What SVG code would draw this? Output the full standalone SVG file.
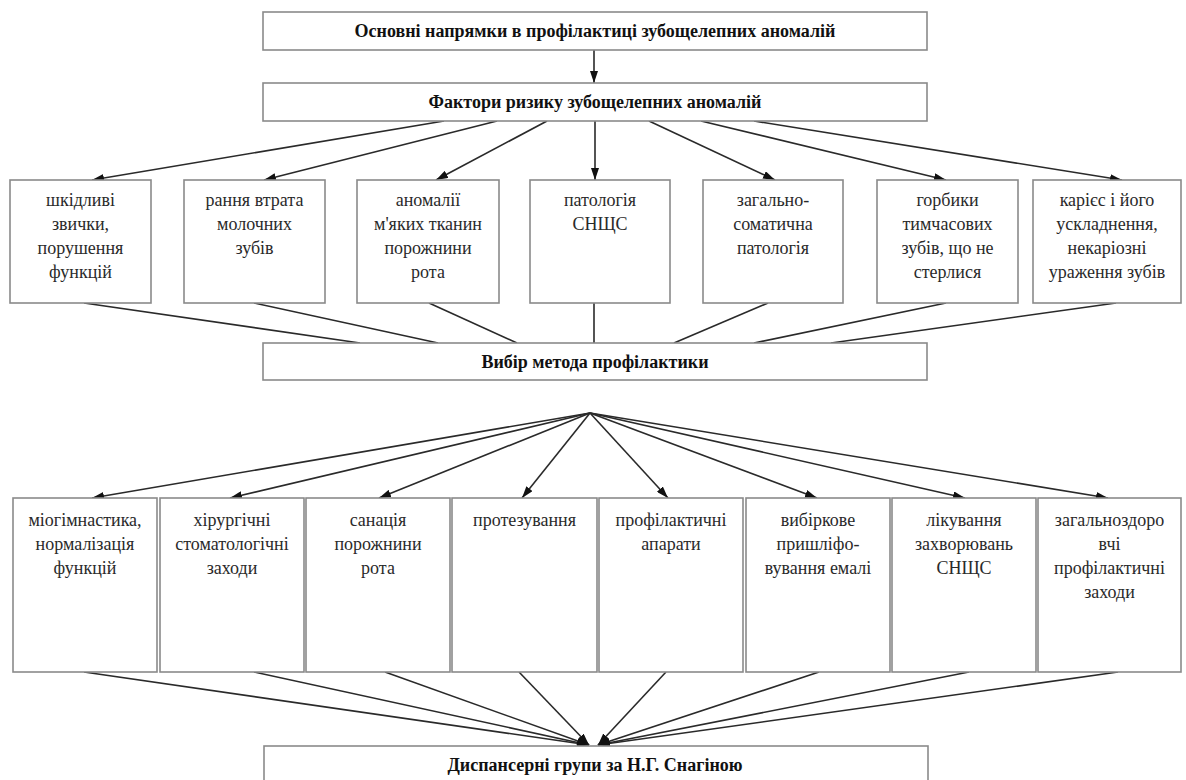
<svg xmlns="http://www.w3.org/2000/svg" width="1186" height="780" viewBox="0 0 1186 780">
<style>
.box{fill:#fff;stroke:#8a8a8a;stroke-width:1.6}
.t{font-family:"Liberation Serif","Times New Roman",serif;font-size:18px;fill:#2a2a2a;text-anchor:middle}
.h{font-family:"Liberation Serif","Times New Roman",serif;font-size:18px;font-weight:bold;fill:#111;text-anchor:middle}
.c line{stroke:#2a2a2a;stroke-width:1.6}
.c .a{marker-end:url(#ar)}
</style>
<defs>
<marker id="ar" markerUnits="userSpaceOnUse" markerWidth="12" markerHeight="8" refX="12" refY="4" orient="auto">
<path d="M0,0 L12,4 L0,8 z" fill="#111"/>
</marker>
</defs>
<rect width="1186" height="780" fill="#fff"/>

<g class="c" id="connectors">
<line class="a" x1="594" y1="50" x2="594" y2="83"/>
<line class="a" x1="444" y1="121" x2="92" y2="180"/>
<line class="a" x1="497" y1="121" x2="264" y2="180"/>
<line class="a" x1="547" y1="121" x2="436" y2="180"/>
<line class="a" x1="595" y1="121" x2="595" y2="180"/>
<line class="a" x1="649" y1="121" x2="775" y2="180"/>
<line class="a" x1="701" y1="121" x2="946" y2="180"/>
<line class="a" x1="754" y1="121" x2="1122" y2="180"/>

<line x1="84" y1="303" x2="360" y2="343"/>
<line x1="254" y1="303" x2="438" y2="343"/>
<line x1="429" y1="303" x2="517" y2="343"/>
<line x1="594" y1="303" x2="594" y2="343"/>
<line x1="768" y1="303" x2="674" y2="343"/>
<line x1="946" y1="303" x2="754" y2="343"/>
<line x1="1116" y1="303" x2="831" y2="343"/>

<line class="a" x1="590" y1="413" x2="92" y2="498"/>
<line class="a" x1="590" y1="413" x2="230" y2="498"/>
<line class="a" x1="590" y1="413" x2="379" y2="498"/>
<line class="a" x1="590" y1="413" x2="522" y2="498"/>
<line class="a" x1="590" y1="413" x2="668" y2="498"/>
<line class="a" x1="590" y1="413" x2="817" y2="498"/>
<line class="a" x1="590" y1="413" x2="965" y2="498"/>
<line class="a" x1="590" y1="413" x2="1108" y2="498"/>

<line class="a" x1="84" y1="672" x2="589" y2="745"/>
<line class="a" x1="254" y1="672" x2="589" y2="745"/>
<line class="a" x1="385" y1="672" x2="589" y2="745"/>
<line class="a" x1="519" y1="672" x2="589" y2="745"/>
<line class="a" x1="666" y1="672" x2="598" y2="745"/>
<line class="a" x1="819" y1="672" x2="598" y2="745"/>
<line class="a" x1="969" y1="672" x2="598" y2="745"/>
<line class="a" x1="1118" y1="672" x2="598" y2="745"/>
</g>

<g id="n-main"><rect class="box" x="263" y="12" width="664" height="38"/><text class="h" x="595" y="37">Основні напрямки в профілактиці зубощелепних аномалій</text></g>
<g id="n-risk"><rect class="box" x="263" y="83" width="664" height="38"/><text class="h" x="595" y="108">Фактори ризику зубощелепних аномалій</text></g>

<g id="r1"><rect class="box" x="10" y="180" width="141" height="123"/><text class="t"><tspan x="80.5" y="206">шкідливі</tspan><tspan x="80.5" y="230">звички,</tspan><tspan x="80.5" y="254">порушення</tspan><tspan x="80.5" y="278">функцій</tspan></text></g>
<g id="r2"><rect class="box" x="184" y="180" width="141" height="123"/><text class="t"><tspan x="254.5" y="206">рання втрата</tspan><tspan x="254.5" y="230">молочних</tspan><tspan x="254.5" y="254">зубів</tspan></text></g>
<g id="r3"><rect class="box" x="357" y="180" width="142" height="123"/><text class="t"><tspan x="428" y="206">аномалії</tspan><tspan x="428" y="230">м'яких тканин</tspan><tspan x="428" y="254">порожнини</tspan><tspan x="428" y="278">рота</tspan></text></g>
<g id="r4"><rect class="box" x="530" y="180" width="140" height="123"/><text class="t"><tspan x="600" y="206">патологія</tspan><tspan x="600" y="230">СНЩС</tspan></text></g>
<g id="r5"><rect class="box" x="703" y="180" width="140" height="123"/><text class="t"><tspan x="773" y="206">загально-</tspan><tspan x="773" y="230">соматична</tspan><tspan x="773" y="254">патологія</tspan></text></g>
<g id="r6"><rect class="box" x="877" y="180" width="141" height="123"/><text class="t"><tspan x="947.5" y="206">горбики</tspan><tspan x="947.5" y="230">тимчасових</tspan><tspan x="947.5" y="254">зубів, що не</tspan><tspan x="947.5" y="278">стерлися</tspan></text></g>
<g id="r7"><rect class="box" x="1033" y="180" width="148" height="123"/><text class="t"><tspan x="1107" y="206">карієс і його</tspan><tspan x="1107" y="230">ускладнення,</tspan><tspan x="1107" y="254">некаріозні</tspan><tspan x="1107" y="278">ураження зубів</tspan></text></g>

<g id="n-choice"><rect class="box" x="263" y="343" width="664" height="37"/><text class="h" x="595" y="368">Вибір метода профілактики</text></g>

<g id="m1"><rect class="box" x="13" y="498" width="144" height="174"/><text class="t"><tspan x="85" y="526">міогімнастика,</tspan><tspan x="85" y="550">нормалізація</tspan><tspan x="85" y="574">функцій</tspan></text></g>
<g id="m2"><rect class="box" x="160" y="498" width="144" height="174"/><text class="t"><tspan x="232" y="526">хірургічні</tspan><tspan x="232" y="550">стоматологічні</tspan><tspan x="232" y="574">заходи</tspan></text></g>
<g id="m3"><rect class="box" x="306" y="498" width="144" height="174"/><text class="t"><tspan x="378" y="526">санація</tspan><tspan x="378" y="550">порожнини</tspan><tspan x="378" y="574">рота</tspan></text></g>
<g id="m4"><rect class="box" x="452" y="498" width="145" height="174"/><text class="t"><tspan x="524.5" y="526">протезування</tspan></text></g>
<g id="m5"><rect class="box" x="599" y="498" width="144" height="174"/><text class="t"><tspan x="671" y="526">профілактичні</tspan><tspan x="671" y="550">апарати</tspan></text></g>
<g id="m6"><rect class="box" x="746" y="498" width="144" height="174"/><text class="t"><tspan x="818" y="526">вибіркове</tspan><tspan x="818" y="550">пришліфо-</tspan><tspan x="818" y="574">вування емалі</tspan></text></g>
<g id="m7"><rect class="box" x="892" y="498" width="144" height="174"/><text class="t"><tspan x="964" y="526">лікування</tspan><tspan x="964" y="550">захворювань</tspan><tspan x="964" y="574">СНЩС</tspan></text></g>
<g id="m8"><rect class="box" x="1038" y="498" width="143" height="174"/><text class="t"><tspan x="1109.5" y="526">загальноздоро</tspan><tspan x="1109.5" y="550">вчі</tspan><tspan x="1109.5" y="574">профілактичні</tspan><tspan x="1109.5" y="598">заходи</tspan></text></g>

<g id="n-groups"><rect class="box" x="264" y="746" width="664" height="44"/><text class="h" x="595" y="771">Диспансерні групи за Н.Г. Снагіною</text></g>
</svg>
